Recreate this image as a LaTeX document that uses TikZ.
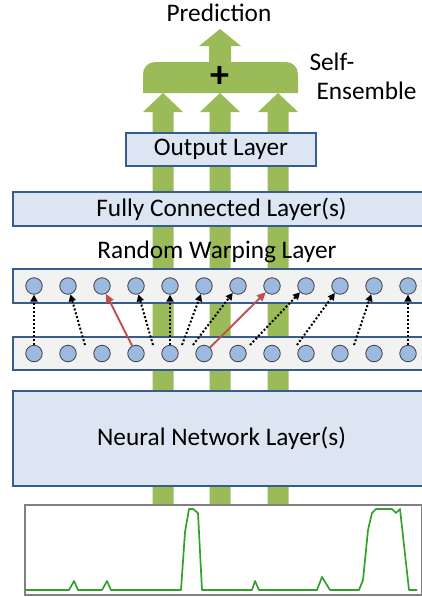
\documentclass[tikz,border=0pt]{standalone}
\usepackage{fontspec}
\setmainfont{Carlito}
\usetikzlibrary{arrows.meta}
\definecolor{layerfill}{RGB}{220,230,242}
\definecolor{layerline}{RGB}{56,93,138}
\definecolor{rowfill}{RGB}{242,242,242}
\definecolor{unitfill}{RGB}{155,185,225}
\definecolor{flowgreen}{RGB}{155,187,89}
\definecolor{warpred}{RGB}{192,80,77}
\definecolor{signalgreen}{RGB}{51,160,44}

\begin{document}
\begin{tikzpicture}[x=1pt,y=-1pt,
  every node/.style={font=\fontsize{25.3}{29}\selectfont},
  layer/.style={draw=layerline,line width=1.6pt,fill=layerfill,inner sep=0pt},
  row/.style={draw=layerline,line width=1.6pt,fill=rowfill,inner sep=0pt,minimum width=417pt},
  unit/.style={circle,draw=black!75,line width=0.8pt,fill=unitfill,minimum size=16.5pt,inner sep=0pt},
  warp/.style={dotted,line width=2pt,-{Triangle[length=7pt,width=7pt]}},
  swap/.style={warpred,line width=1.9pt,-{Triangle[length=9pt,width=8pt]}}]

\useasboundingbox (0,0) rectangle (422,597);

% the three streams and the ensemble head
\foreach \c in {163,220,278}
  \fill[flowgreen] (\c-10.5,505) -- (\c-10.5,112) -- (\c-20,112) -- (\c,93)
                   -- (\c+20,112) -- (\c+10.5,112) -- (\c+10.5,505) -- cycle;
\fill[flowgreen] (143,93) -- (143,74) arc (180:270:12) -- (209,62) -- (209,46)
                 -- (199,46) -- (220,29) -- (241,46) -- (231,46) -- (231,62)
                 -- (286,62) arc (270:360:12) -- (298,93) -- cycle;
\node at (220,77) (plus) {\fontsize{38}{40}\selectfont\bfseries +};

\node at (219,21) [anchor=base] (pred) {Prediction};
\node at (306,70) [anchor=base west] (self) {Self-};
\node at (313,99) [anchor=base west] (ens) {Ensemble};

\node at (221,149.5) [layer,minimum width=190pt,minimum height=33pt] (out) {Output Layer};
\node at (221.5,209) [layer,minimum width=417pt,minimum height=34pt] (fc) {Fully Connected Layer(s)};
\node at (217,258) [anchor=base] (rwl) {Random Warping Layer};
\node at (221.5,286) [row,minimum height=34pt] (top) {};
\node at (221.5,353.5) [row,minimum height=33pt] (bot) {};
\node at (221.5,438.5) [layer,minimum width=417pt,minimum height=95pt] (nn) {Neural Network Layer(s)};

\foreach \i in {1,...,12} {
  \node at ({34*\i},286) [unit] (t\i) {};
  \node at ({34*\i},353.5) [unit] (b\i) {};
}

% warped positions between the units
\coordinate (w2) at (85,345);
\coordinate (w4) at (153,345);
\coordinate (w6) at (182,345);
\coordinate (w7) at (193,345);
\coordinate (w9) at (250,345);
\coordinate (w10) at (297,345);
\coordinate (w11) at (354,345);

\draw[warp] (b1) -- (t1);
\draw[warp] (w2) -- (t2);
\draw[swap] (b4) -- (t3);
\draw[warp] (w4) -- (t4);
\draw[warp] (b5) -- (t5);
\draw[warp] (w6) -- (t6);
\draw[warp] (w7) -- (t7);
\draw[swap] (b6) -- (t8);
\draw[warp] (w9) -- (t9);
\draw[warp] (w10) -- (t10);
\draw[warp] (w11) -- (t11);
\draw[warp] (b12) -- (t12);

% input signal
\draw[black!50,line width=1.2pt,fill=white] (25,505) rectangle (422,595);
\draw[signalgreen,line width=1.7pt,line join=round] plot coordinates {
  (26,590) (69,590) (74,581) (78,590) (102,590) (107,581) (111,590)
  (181,590) (185,532) (189,509) (193,509) (198,513) (202,590)
  (252,590) (255,581) (259,590) (317,590) (322,577) (330,590)
  (359,590) (363,580) (368,530) (372,513) (376,509) (392,509)
  (396,513) (400,509) (409,590) (417,590)};

\end{tikzpicture}
\end{document}
